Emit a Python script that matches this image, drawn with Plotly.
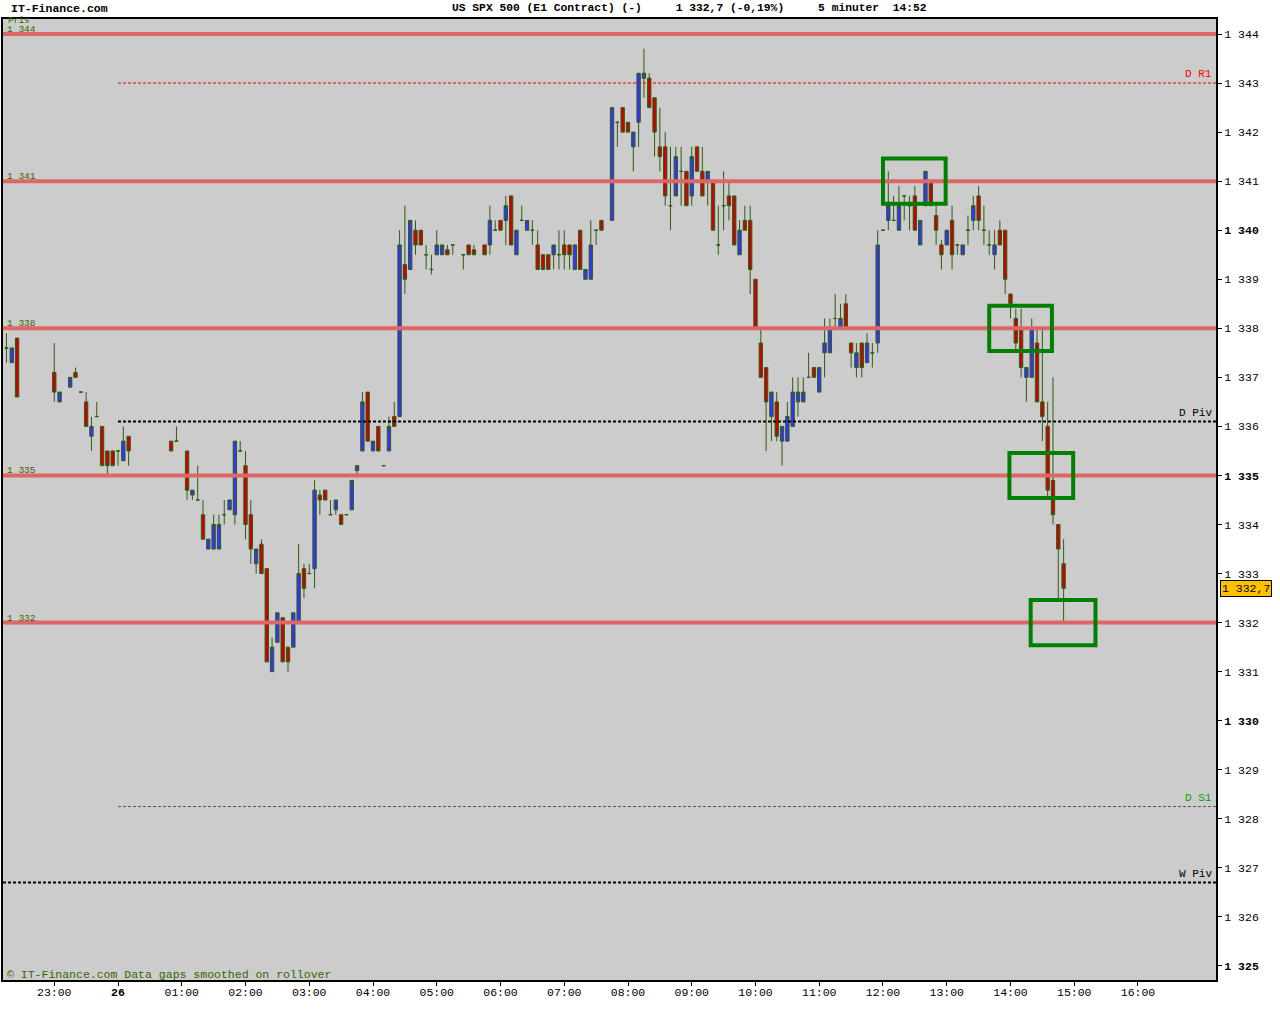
import plotly.graph_objects as go

# ---------------- data ----------------
bar_times = [
    "22:15", "22:20", "22:25", "23:00", "23:05", "23:15", "23:20", "23:25", "23:30", "23:35", "23:40", "23:45", "23:50", "23:55",
    "00:00", "00:05", "00:10", "00:50", "00:55",
    "01:05", "01:10", "01:15", "01:20", "01:25", "01:30", "01:35", "01:40", "01:45", "01:50", "01:55",
    "02:00", "02:05", "02:10", "02:15", "02:20", "02:25", "02:30", "02:35", "02:40", "02:45", "02:50", "02:55",
    "03:00", "03:05", "03:10", "03:15", "03:20", "03:25", "03:30", "03:35", "03:40", "03:45", "03:50", "03:55",
    "04:00", "04:05", "04:10", "04:15", "04:20", "04:25", "04:30", "04:35", "04:40", "04:45", "04:50", "04:55",
    "05:00", "05:05", "05:10", "05:15", "05:25", "05:30", "05:35", "05:45", "05:50", "05:55",
    "06:00", "06:05", "06:10", "06:15", "06:20", "06:25", "06:30", "06:35", "06:40", "06:45", "06:50", "06:55",
    "07:00", "07:05", "07:10", "07:15", "07:20", "07:25", "07:30", "07:35", "07:45", "07:50", "07:55",
    "08:00", "08:05", "08:10", "08:15", "08:20", "08:25", "08:30", "08:35", "08:40", "08:45", "08:50", "08:55",
    "09:00", "09:05", "09:10", "09:15", "09:20", "09:25", "09:30", "09:35", "09:40", "09:45", "09:50", "09:55",
    "10:00", "10:05", "10:10", "10:15", "10:20", "10:25", "10:30", "10:35", "10:40", "10:45", "10:50", "10:55",
    "11:00", "11:05", "11:10", "11:15", "11:20", "11:25", "11:30", "11:35", "11:40", "11:45", "11:50", "11:55",
    "12:00", "12:05", "12:10", "12:15", "12:20", "12:25", "12:30", "12:35", "12:40", "12:45", "12:50", "12:55",
    "13:00", "13:05", "13:10", "13:15", "13:20", "13:25", "13:30", "13:35", "13:40", "13:45", "13:50", "13:55",
    "14:00", "14:05", "14:10", "14:15", "14:20", "14:25", "14:30", "14:35", "14:40", "14:45", "14:50",
]

opens = [
    1337.6, 1337.3, 1337.8, 1337.1, 1336.5, 1336.8, 1337.1, 1336.7, 1336.5, 1335.8, 1336.2, 1336.0, 1335.5, 1335.5,
    1335.5, 1335.3, 1335.8, 1335.7, 1335.7,
    1335.5, 1334.6, 1334.5, 1334.2, 1333.5, 1333.5, 1333.5, 1334.2, 1334.3, 1334.2, 1335.5,
    1335.2, 1334.2, 1333.2, 1333.6, 1333.1, 1331.0, 1331.6, 1332.1, 1331.5, 1331.5, 1332.0, 1333.1,
    1333.0, 1333.1, 1334.6, 1334.7, 1334.2, 1334.3, 1334.2, 1334.2, 1334.3, 1335.1, 1335.5, 1336.7,
    1335.5, 1336.0, 1335.2, 1335.5, 1336.2, 1336.2, 1339.3, 1339.2, 1340.0, 1340.0, 1339.5, 1339.2,
    1339.5, 1339.5, 1339.6, 1339.7, 1339.5, 1339.7, 1339.6, 1339.7, 1339.7, 1340.0,
    1340.2, 1340.2, 1340.7, 1339.5, 1340.2, 1340.0, 1340.0, 1339.7, 1339.5, 1339.5, 1339.5, 1339.5,
    1339.7, 1339.7, 1339.2, 1340.0, 1339.0, 1339.0, 1340.0, 1340.2, 1340.2, 1342.2, 1342.5,
    1342.2, 1341.7, 1342.2, 1343.1, 1343.1, 1342.7, 1341.7, 1341.7, 1340.5, 1340.7, 1341.2, 1341.2,
    1340.7, 1341.7, 1341.2, 1341.0, 1341.0, 1339.7, 1340.5, 1340.7, 1340.7, 1339.5, 1340.2, 1340.2,
    1339.0, 1337.7, 1337.2, 1336.2, 1336.5, 1335.7, 1335.7, 1336.0, 1336.5, 1336.5, 1337.0, 1337.2,
    1336.7, 1337.5, 1337.5, 1338.2, 1338.0, 1338.5, 1337.7, 1337.2, 1337.7, 1337.3, 1337.5, 1337.7,
    1340.0, 1340.2, 1340.2, 1340.0, 1340.7, 1340.5, 1340.7, 1339.7, 1340.5, 1341.0, 1340.3, 1339.7,
    1339.7, 1340.2, 1339.7, 1339.5, 1340.0, 1340.2, 1340.7, 1340.0, 1339.7, 1339.5, 1340.0, 1340.0,
    1338.7, 1338.2, 1338.0, 1337.0, 1337.0, 1337.7, 1336.5, 1336.0, 1334.9, 1334.0, 1333.2,
]

highs = [
    1337.9, 1337.6, 1337.8, 1337.7, 1336.7, 1337.0, 1337.2, 1336.7, 1336.7, 1336.2, 1336.5, 1336.0, 1335.5, 1335.5,
    1335.5, 1336.0, 1335.8, 1335.7, 1336.0,
    1335.5, 1334.7, 1335.2, 1334.5, 1333.7, 1334.2, 1334.2, 1334.5, 1334.5, 1335.7, 1335.7,
    1335.5, 1334.5, 1333.5, 1333.7, 1333.1, 1331.7, 1332.2, 1332.1, 1331.5, 1332.2, 1333.6, 1333.2,
    1333.2, 1334.9, 1334.7, 1334.7, 1334.5, 1334.5, 1334.2, 1334.2, 1334.9, 1335.2, 1336.7, 1336.7,
    1335.7, 1336.0, 1335.2, 1336.2, 1336.5, 1340.0, 1340.5, 1340.2, 1340.2, 1340.0, 1339.7, 1339.5,
    1340.0, 1339.7, 1339.7, 1339.7, 1339.5, 1339.7, 1339.7, 1339.7, 1340.5, 1340.2,
    1340.2, 1340.7, 1340.7, 1340.0, 1340.5, 1340.2, 1340.2, 1340.0, 1339.5, 1339.5, 1339.7, 1340.0,
    1340.0, 1339.7, 1339.7, 1340.0, 1339.2, 1340.2, 1340.0, 1340.2, 1342.5, 1342.2, 1342.5,
    1342.2, 1342.0, 1343.2, 1343.7, 1343.2, 1342.7, 1342.5, 1342.0, 1341.7, 1341.7, 1341.7, 1341.2,
    1341.7, 1341.7, 1341.7, 1341.2, 1341.0, 1340.5, 1341.2, 1341.0, 1340.7, 1340.2, 1340.5, 1340.5,
    1339.0, 1338.0, 1337.2, 1336.7, 1336.7, 1336.0, 1336.5, 1337.0, 1337.0, 1337.0, 1337.5, 1337.2,
    1337.2, 1338.2, 1338.2, 1338.7, 1338.5, 1338.7, 1337.7, 1337.7, 1337.7, 1337.9, 1337.7, 1340.0,
    1340.0, 1341.2, 1340.7, 1340.9, 1340.7, 1340.7, 1340.9, 1340.2, 1341.2, 1341.0, 1340.5, 1339.8,
    1340.0, 1340.5, 1339.7, 1339.7, 1340.3, 1340.7, 1340.9, 1340.5, 1340.0, 1340.0, 1340.2, 1340.0,
    1338.7, 1338.4, 1338.4, 1337.2, 1338.2, 1338.0, 1338.0, 1336.5, 1337.0, 1334.0, 1333.7,
]

lows = [
    1337.3, 1337.3, 1336.6, 1336.5, 1336.5, 1336.8, 1337.0, 1336.7, 1336.0, 1335.5, 1336.2, 1335.2, 1335.0, 1335.2,
    1335.2, 1335.3, 1335.2, 1335.5, 1335.7,
    1334.5, 1334.5, 1334.5, 1333.7, 1333.5, 1333.5, 1333.5, 1334.0, 1334.3, 1334.0, 1335.5,
    1333.7, 1333.2, 1333.0, 1333.0, 1331.2, 1331.0, 1331.6, 1331.2, 1331.0, 1331.5, 1332.0, 1332.5,
    1333.0, 1332.7, 1334.2, 1334.5, 1334.2, 1334.2, 1334.0, 1334.2, 1334.3, 1335.0, 1335.5, 1335.7,
    1335.5, 1335.5, 1335.2, 1335.5, 1336.0, 1336.2, 1338.7, 1339.2, 1339.5, 1339.7, 1339.2, 1339.1,
    1339.5, 1339.5, 1339.5, 1339.5, 1339.2, 1339.5, 1339.5, 1339.5, 1339.5, 1340.0,
    1340.0, 1339.7, 1339.7, 1339.5, 1340.2, 1340.0, 1339.7, 1339.2, 1339.2, 1339.2, 1339.2, 1339.2,
    1339.2, 1339.2, 1339.2, 1339.2, 1339.0, 1339.0, 1339.7, 1340.0, 1340.2, 1341.7, 1342.0,
    1342.0, 1341.2, 1341.7, 1342.7, 1342.5, 1341.5, 1341.2, 1340.5, 1340.0, 1340.7, 1340.5, 1340.5,
    1340.5, 1341.2, 1340.7, 1340.5, 1340.0, 1339.5, 1340.0, 1340.2, 1339.7, 1339.5, 1340.0, 1338.7,
    1338.0, 1337.0, 1335.5, 1335.7, 1335.7, 1335.2, 1335.7, 1336.0, 1336.2, 1336.5, 1337.0, 1337.0,
    1336.7, 1337.0, 1337.5, 1338.0, 1338.0, 1338.0, 1337.2, 1337.0, 1337.0, 1337.3, 1337.2, 1337.5,
    1340.0, 1340.0, 1340.2, 1340.0, 1340.2, 1340.0, 1340.0, 1339.7, 1340.5, 1340.5, 1339.7, 1339.2,
    1339.7, 1339.2, 1339.5, 1339.5, 1339.7, 1340.0, 1340.0, 1339.7, 1339.5, 1339.2, 1339.7, 1338.7,
    1338.2, 1337.5, 1337.0, 1336.5, 1337.0, 1336.5, 1335.7, 1334.5, 1334.0, 1332.5, 1332.0,
]

closes = [
    1337.6, 1337.6, 1336.6, 1336.7, 1336.7, 1337.0, 1337.0, 1336.7, 1336.0, 1336.0, 1336.2, 1335.2, 1335.2, 1335.2,
    1335.5, 1335.7, 1335.5, 1335.5, 1335.7,
    1334.7, 1334.7, 1334.5, 1333.7, 1333.7, 1334.0, 1334.0, 1334.2, 1334.5, 1335.7, 1335.5,
    1334.0, 1333.5, 1333.5, 1333.0, 1331.2, 1331.5, 1332.2, 1331.2, 1331.2, 1332.2, 1333.0, 1332.7,
    1333.0, 1334.7, 1334.5, 1334.5, 1334.2, 1334.5, 1334.0, 1334.2, 1334.9, 1335.2, 1336.5, 1335.7,
    1335.7, 1335.5, 1335.2, 1336.0, 1336.0, 1339.7, 1339.0, 1340.2, 1339.7, 1339.7, 1339.5, 1339.2,
    1339.7, 1339.7, 1339.5, 1339.7, 1339.5, 1339.5, 1339.5, 1339.5, 1340.2, 1340.0,
    1340.0, 1340.5, 1339.7, 1340.0, 1340.2, 1340.2, 1340.0, 1339.2, 1339.2, 1339.2, 1339.7, 1339.5,
    1339.5, 1339.5, 1339.7, 1339.2, 1339.2, 1339.7, 1340.0, 1340.0, 1342.5, 1342.2, 1342.0,
    1342.0, 1342.0, 1343.2, 1343.2, 1342.5, 1342.0, 1341.5, 1340.7, 1340.5, 1341.5, 1341.2, 1340.5,
    1341.5, 1341.2, 1340.7, 1341.2, 1340.0, 1339.7, 1340.5, 1340.5, 1339.7, 1340.0, 1340.0, 1339.2,
    1338.0, 1337.0, 1336.5, 1336.7, 1335.8, 1336.0, 1336.2, 1336.7, 1336.7, 1336.7, 1337.0, 1337.0,
    1337.2, 1337.7, 1338.0, 1338.2, 1338.2, 1338.0, 1337.5, 1337.5, 1337.2, 1337.7, 1337.5, 1339.7,
    1340.0, 1340.5, 1340.2, 1340.5, 1340.7, 1340.5, 1340.0, 1340.2, 1341.2, 1340.5, 1340.0, 1339.5,
    1340.0, 1339.5, 1339.7, 1339.7, 1340.0, 1340.5, 1340.2, 1340.0, 1339.7, 1339.7, 1339.7, 1339.0,
    1338.5, 1337.7, 1337.2, 1337.2, 1338.0, 1336.5, 1336.2, 1334.7, 1334.2, 1333.5, 1332.7,
]

# support / resistance levels (solid red lines) and pivot levels
sr_levels = [1344, 1341, 1338, 1335, 1332]
pivot_names = ["D R1", "D Piv", "D S1", "W Piv"]
pivot_values = [1343.0, 1336.1, 1328.25, 1326.7]
pivot_starts = ["2011-04-26 00:00", "2011-04-26 00:00", "2011-04-26 00:00", None]

# highlighted zones (green boxes)
zone_levels = [1341.0, 1338.0, 1335.0, 1332.0]
zone_starts = ["2011-04-26 12:00", "2011-04-26 13:40", "2011-04-26 13:59", "2011-04-26 14:19"]
zone_ends = ["2011-04-26 12:59", "2011-04-26 14:39", "2011-04-26 14:59", "2011-04-26 15:20"]

y_ticks = list(range(1325, 1345))
x_tick_times = ["2011-04-25 23:00"] + ["2011-04-26 %02d:00" % h for h in range(0, 17)]
x_tick_labels = ["23:00", "<b>26</b>"] + ["%02d:00" % h for h in range(1, 17)]

last_price = 1332.7

# ---------------- figure ----------------
W, H = 1280, 1024
L, R, T, B = 3, 64, 19, 44
PW, PH = W - L - R, H - T - B
MONO = "Liberation Mono, Courier New, monospace"


def px_x(px):
    return (px - L) / PW


def px_y(py):
    return (H - B - py) / PH


def stamp(t):
    day = "2011-04-25" if int(t[:2]) >= 22 else "2011-04-26"
    return day + " " + t


x_vals = [stamp(t) for t in bar_times]

wick = "#2e5c12"
fig = go.Figure(go.Candlestick(
    x=x_vals, open=opens, high=highs, low=lows, close=closes,
    increasing=dict(fillcolor="#3333ff", line=dict(color=wick, width=1)),
    decreasing=dict(fillcolor="#cc0000", line=dict(color=wick, width=1)),
    whiskerwidth=0, showlegend=False, hoverinfo="x+y",
))

shapes = []
annotations = []

for lv in sr_levels:
    shapes.append(dict(type="line", xref="paper", x0=0, x1=1, yref="y", y0=lv, y1=lv,
                       line=dict(color="#e06666", width=4), layer="above"))
    annotations.append(dict(xref="paper", x=px_x(5), yref="y", y=lv, xanchor="left", yanchor="bottom",
                            yshift=-3, text="1 %03d" % (lv - 1000), showarrow=False,
                            font=dict(family=MONO, size=9.5, color="#336600")))

pivot_styles = {
    "D R1": dict(color="#e00000", width=1, label="#ff0000"),
    "D Piv": dict(color="#000000", width=2, label="#000000"),
    "D S1": dict(color="#555555", width=1, label="#00a000"),
    "W Piv": dict(color="#000000", width=2, label="#000000"),
}
for name, val, start in zip(pivot_names, pivot_values, pivot_starts):
    st = pivot_styles[name]
    if start is None:
        shapes.append(dict(type="line", xref="paper", x0=0, x1=1, yref="y", y0=val, y1=val,
                           line=dict(color=st["color"], width=st["width"], dash="3px,2px"), layer="above"))
    else:
        shapes.append(dict(type="line", xref="x", x0=start, x1="2011-04-26 17:13:26", yref="y", y0=val, y1=val,
                           line=dict(color=st["color"], width=st["width"], dash="3px,2px"), layer="above"))
    annotations.append(dict(xref="paper", x=1, xshift=-2, yref="y", y=val, xanchor="right", yanchor="bottom",
                            yshift=1, text=name, showarrow=False,
                            font=dict(family=MONO, size=11, color=st["label"])))

for lv, s, e in zip(zone_levels, zone_starts, zone_ends):
    shapes.append(dict(type="rect", xref="x", x0=s, x1=e, yref="y", y0=lv - 0.46, y1=lv + 0.46,
                       line=dict(color="#008000", width=4), fillcolor="rgba(0,0,0,0)", layer="above"))

# header texts
annotations.append(dict(xref="paper", x=px_x(9), yref="paper", y=px_y(8), xanchor="left", yanchor="middle",
                        text="<b>IT-Finance.com</b>", showarrow=False,
                        font=dict(family=MONO, size=11.5, color="#000000")))
header = ("US SPX 500 (E1 Contract) (-)" + "\u00a0" * 5 + "1 332,7 (-0,19%)" + "\u00a0" * 5 +
          "5 minuter" + "\u00a0" * 2 + "14:52").replace(" ", "\u00a0")
annotations.append(dict(xref="paper", x=px_x(450), yref="paper", y=px_y(8), xanchor="left", yanchor="middle",
                        text="<b>" + header + "</b>", showarrow=False,
                        font=dict(family=MONO, size=11.3, color="#000000")))
annotations.append(dict(xref="paper", x=px_x(6), yref="paper", y=px_y(21), xanchor="left", yanchor="middle",
                        text="Pris", showarrow=False,
                        font=dict(family=MONO, size=9, color="#336600")))
annotations.append(dict(xref="paper", x=px_x(5), yref="paper", y=0, xanchor="left", yanchor="bottom",
                        yshift=-3, text="© IT-Finance.com Data gaps smoothed on rollover", showarrow=False,
                        font=dict(family=MONO, size=11.5, color="#336600")))
annotations.append(dict(xref="paper", x=px_x(1220), yref="y", y=last_price, xanchor="left", yanchor="middle",
                        text="1 332,7", showarrow=False, bgcolor="#ffc000", bordercolor="#000000",
                        borderwidth=1, borderpad=1,
                        font=dict(family=MONO, size=11.5, color="#000000")))

y_text = [("<b>1 %03d</b>" if v % 5 == 0 else "1 %03d") % (v - 1000) for v in y_ticks]

fig.update_layout(
    width=W, height=H,
    margin=dict(l=L, r=R, t=T, b=B, autoexpand=False),
    paper_bgcolor="#ffffff", plot_bgcolor="#cccccc",
    showlegend=False, boxgap=0.1,
    shapes=shapes, annotations=annotations,
    xaxis=dict(type="date", range=["2011-04-25 22:11:45", "2011-04-26 17:13:26"],
               rangeslider=dict(visible=False), showgrid=False, zeroline=False,
               tickmode="array", tickvals=x_tick_times, ticktext=x_tick_labels,
               ticks="outside", ticklen=4, tickcolor="#000000", tickwidth=1,
               showline=True, linecolor="#000000", linewidth=2, mirror=True,
               ticklabelstandoff=-4,
               tickfont=dict(family=MONO, size=11.5, color="#000000"), automargin=False),
    yaxis=dict(range=[1324.714, 1344.306], side="right", showgrid=False, zeroline=False,
               tickmode="array", tickvals=y_ticks, ticktext=y_text,
               ticks="outside", ticklen=4, tickcolor="#000000", tickwidth=1,
               showline=True, linecolor="#000000", linewidth=2, mirror=True,
               ticklabelstandoff=0,
               tickfont=dict(family=MONO, size=11.5, color="#000000"), automargin=False),
)

fig.write_html("out.html", config={"displayModeBar": False},
               post_script="document.body.style.margin='0';document.body.style.overflow='hidden';")
